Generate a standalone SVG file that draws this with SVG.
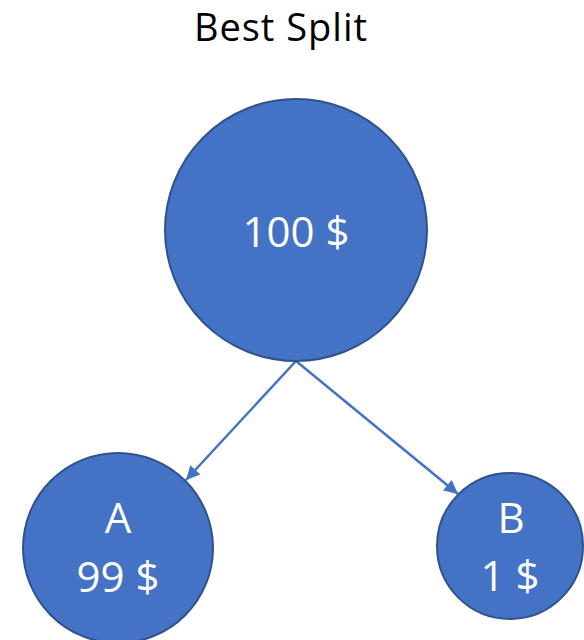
<svg xmlns="http://www.w3.org/2000/svg" width="584" height="640" viewBox="0 0 584 640">
<style>
.node{fill:#4472C4;stroke:#2F528F;stroke-width:2}
.lbl{font-family:"Open Sans","Noto Sans",sans-serif;font-size:42px;fill:#ffffff;text-anchor:middle}
.title{font-family:"Open Sans","Noto Sans",sans-serif;font-size:38px;fill:#000000;text-anchor:middle;letter-spacing:1px}
.edge{stroke:#4472C4;stroke-width:2.5;fill:none}
</style>
<defs>
<marker id="arr" viewBox="0 0 10 10" refX="10" refY="5" markerWidth="6.5" markerHeight="5.5" markerUnits="strokeWidth" orient="auto">
<path d="M0,0 L10,5 L0,10 Z" fill="#4472C4"/>
</marker>
</defs>
<rect width="584" height="640" fill="#ffffff"/>
<text class="title" x="281" y="41">Best Split</text>
<g id="edges">
<line class="edge" x1="296" y1="361" x2="186" y2="480" marker-end="url(#arr)"/>
<line class="edge" x1="296" y1="361" x2="458" y2="494" marker-end="url(#arr)"/>
</g>
<g id="root">
<circle class="node" cx="296" cy="230" r="131"/>
<text class="lbl" x="296" y="247">100 $</text>
</g>
<g id="A">
<circle class="node" cx="118" cy="548" r="95"/>
<text class="lbl" x="118" y="533">A</text>
<text class="lbl" x="118" y="592">99 $</text>
</g>
<g id="B">
<circle class="node" cx="510" cy="546" r="73"/>
<text class="lbl" x="511" y="533">B</text>
<text class="lbl" x="510" y="591">1 $</text>
</g>
</svg>
